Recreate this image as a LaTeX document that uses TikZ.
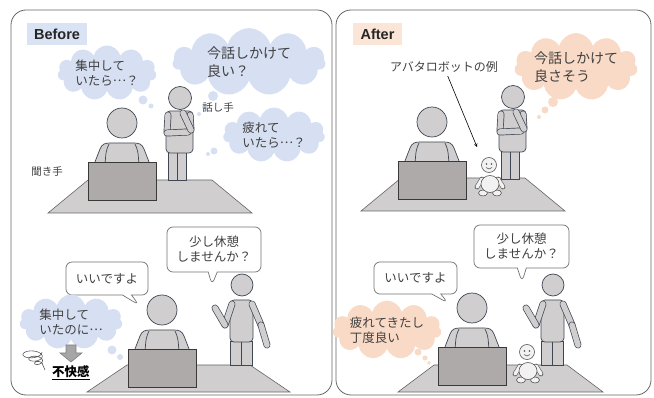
\documentclass[tikz,border=0pt]{standalone}
\usepackage{fontspec}
\setmainfont{Noto Sans CJK JP}
\newfontfamily\headfont{Liberation Sans}
\usetikzlibrary{shapes.symbols,shapes.callouts}
\definecolor{ink}{HTML}{404040}
\definecolor{figfill}{HTML}{D0CECE}
\definecolor{figline}{HTML}{3F4654}
\definecolor{screen}{HTML}{AEAAAA}
\definecolor{screenline}{HTML}{3B3838}
\definecolor{worryblue}{HTML}{D6E0F2}
\definecolor{calmpeach}{HTML}{F9DAC6}
\definecolor{tagblue}{HTML}{DAE3F3}
\definecolor{tagpeach}{HTML}{FBE5D6}
\newcommand\middots{\raisebox{0.32em}{…}}

\begin{document}
\begin{tikzpicture}[x=1pt,y=-1pt,
    panel/.style={draw=black!60,line width=0.8pt,rounded corners=15pt},
    tag/.style={fill=#1,font=\headfont\bfseries\fontsize{14.5}{16}\selectfont,text=black!85,inner sep=0pt,minimum height=22pt},
    floor/.style={draw=black!60,fill=figfill,line width=0.6pt},
    body/.style={draw=figline,fill=figfill,line width=0.7pt},
    limb/.style={draw=figline,line width=0.7pt,double=figfill,double distance=5.5pt,line cap=round},
    botpart/.style={draw=black!65,fill=white!95!black,line width=0.6pt},
    botlimb/.style={draw=black!65,line width=0.6pt,double=white!95!black,double distance=3.5pt,line cap=round},
    thought/.style={cloud,cloud puffs=11,cloud ignores aspect,fill=#1,inner sep=0pt,align=left,text=ink,font=\fontsize{12.5}{15}\selectfont},
    say/.style={rectangle callout,rounded corners=6pt,draw=black!55,fill=white,line width=0.7pt,align=center,text=ink,font=\fontsize{12.5}{15}\selectfont,callout pointer width=9pt,inner sep=0pt},
    lbl/.style={text=ink,font=\fontsize{10.5}{12}\selectfont},
    seated/.pic={
        \draw[body] (-29,44) -- (-22,26) .. controls (-20,21) and (-17,20) .. (-12,20) -- (12,20) .. controls (17,20) and (20,21) .. (22,26) -- (29,44) -- cycle;
        \draw[figline,line width=0.7pt] (-13,21) .. controls (-16,28) .. (-17,42) (13,21) .. controls (16,28) .. (17,42);
        \draw[body] (0,0) circle (15);
        \draw[draw=screenline,fill=screen,line width=0.8pt] (-34,39) rectangle (34,77);
    },
    standing/.pic={
        \draw[body] (-12,54) rectangle (-3,82);
        \draw[body] (-3,54) rectangle (6,82);
        \draw[body,rounded corners=4pt] (-14,13) rectangle (13,55);
        \draw[body] (0,0) circle (11.5);
        \draw[limb] (-12,17) -- (-13,34);
        \draw[limb] (10,17) -- (11,32);
        \draw[limb] (-13,35) -- (8,34);
        \draw[limb] (11,32) -- (3,15);
    },
    waving/.pic={
        \draw[body] (-12,56) rectangle (-1,80);
        \draw[body] (-1,56) rectangle (10,80);
        \draw[body,rounded corners=4pt] (-12,15) rectangle (11,57);
        \draw[body] (0,0) circle (11);
        \draw[limb] (-10,19) -- (-17,40);
        \draw[limb] (-17,40) -- (-27,23);
        \draw[limb] (10,19) -- (19,40);
        \draw[limb] (19,40) -- (25,60);
    },
    robot/.pic={
        \draw[botlimb] (-7,14) -- (-12,22);
        \draw[botlimb] (9,14) -- (14,22);
        \draw[botpart] (-6,28) ellipse (4.5 and 3);
        \draw[botpart] (8,28) ellipse (4.5 and 3);
        \draw[botpart] (1,19) ellipse (9 and 8.5);
        \draw[botpart] (0,0) circle (7.5);
        \fill[black!70] (-2.5,-1) circle (0.9) (2.5,-1) circle (0.9);
        \draw[black!70,line width=0.5pt] (-3,2.5) .. controls (-1,4.5) and (1,4.5) .. (3,2.5);
    }]
    \useasboundingbox (0,0) rectangle (654,398);

    \draw[panel] (11,10) rectangle (332,395);
    \draw[panel] (336,10) rectangle (651,395);
    \node[tag=tagblue,minimum width=60pt] (before) at (57,34) {Before};
    \node[tag=tagpeach,minimum width=49pt] (after) at (377.5,34) {After};

    % before: asking
    \draw[floor] (48,213) -- (252,213) -- (212,180) -- (88,180) -- cycle;
    \pic at (122,123) {seated};
    \pic at (180,98) {standing};
    \node[thought=worryblue,minimum width=99pt,minimum height=47pt] (busy) at (107,73) {集中して\\いたら\middots？};
    \fill[worryblue] (143,100) circle (4.5) (151,106) circle (2.5);
    \node[thought=worryblue,minimum width=153pt,minimum height=61pt,font=\fontsize{14}{18}\selectfont] (askok) at (249,62) {今話しかけて\\良い？};
    \fill[worryblue] (213,96) circle (5) (205,107) circle (3) (199,114) circle (2);
    \node[thought=worryblue,minimum width=102pt,minimum height=55pt] (tired) at (274,135) {疲れて\\いたら\middots？};
    \fill[worryblue] (214,151) circle (3.5) (208,154) circle (2);
    \node[lbl] (speaker) at (218,108) {話し手};
    \node[lbl] (listener) at (47,172) {聞き手};

    % before: interrupted
    \draw[floor] (87,392) -- (290,392) -- (250,365) -- (127,365) -- cycle;
    \pic at (162,310) {seated};
    \pic at (242,285) {waving};
    \node[say,minimum width=94pt,minimum height=45pt,callout absolute pointer={(212,285)}] (breakL) at (214,249.5) {少し休憩\\しませんか？};
    \node[say,minimum width=82pt,minimum height=33pt,callout absolute pointer={(139,305)}] (okL) at (107,278.5) {いいですよ};
    \node[thought=worryblue,minimum width=103pt,minimum height=55pt] (wasbusy) at (71,322) {集中して\\いたのに\middots};
    \fill[worryblue] (112,350) circle (4.5) (120,357) circle (3);
    \draw[draw=black!50,fill=black!35,line width=0.6pt] (66,345) -- (76,345) -- (76,353) -- (82,353) -- (71,362) -- (60,353) -- (66,353) -- cycle;
    \node[text=black,font=\bfseries\fontsize{12.5}{15}\selectfont] (upset) at (71,373) {\underline{不快感}};
    \draw[black!65,line width=0.6pt] plot[smooth,domain=0:1080,samples=100]
        ({31+0.0085*\x+(11-0.0078*\x)*cos(\x)},{352+0.012*\x+(5-0.0028*\x)*sin(\x)}) -- (45,370);

    % after: asking
    \draw[floor] (361,211) -- (565,211) -- (525,178) -- (401,178) -- cycle;
    \pic at (432,122) {seated};
    \pic at (513,97) {standing};
    \pic at (489,165) {robot};
    \node[thought=calmpeach,minimum width=113pt,minimum height=60pt,font=\fontsize{14}{18}\selectfont] (askfine) at (576,67) {今話しかけて\\良さそう};
    \fill[calmpeach] (553,102) circle (5) (545,110) circle (3.5) (539,117) circle (2);
    \node[lbl,font=\fontsize{12}{14}\selectfont] (avatar) at (444,67) {アバタロボットの例};
    \coordinate (avatartip) at (477,147);
    \draw[->,>=stealth,line width=0.6pt] (avatar) -- (avatartip);

    % after: interrupted
    \draw[floor] (398,392) -- (603,392) -- (567,365) -- (434,365) -- cycle;
    \pic at (472,308) {seated};
    \pic at (553,285) {waving};
    \pic at (527,352) {robot};
    \node[say,minimum width=95pt,minimum height=43pt,callout absolute pointer={(522,282)}] (breakR) at (521.5,246.5) {少し休憩\\しませんか？};
    \node[say,minimum width=83pt,minimum height=32pt,callout absolute pointer={(448,303)}] (okR) at (415.5,278) {いいですよ};
    \node[thought=calmpeach,minimum width=99pt,minimum height=55pt] (goodtime) at (387,330) {疲れてきたし\\丁度良い};
    \fill[calmpeach] (418,352) circle (3.5) (425,358) circle (2.5) (429,363) circle (1.8);
\end{tikzpicture}
\end{document}
